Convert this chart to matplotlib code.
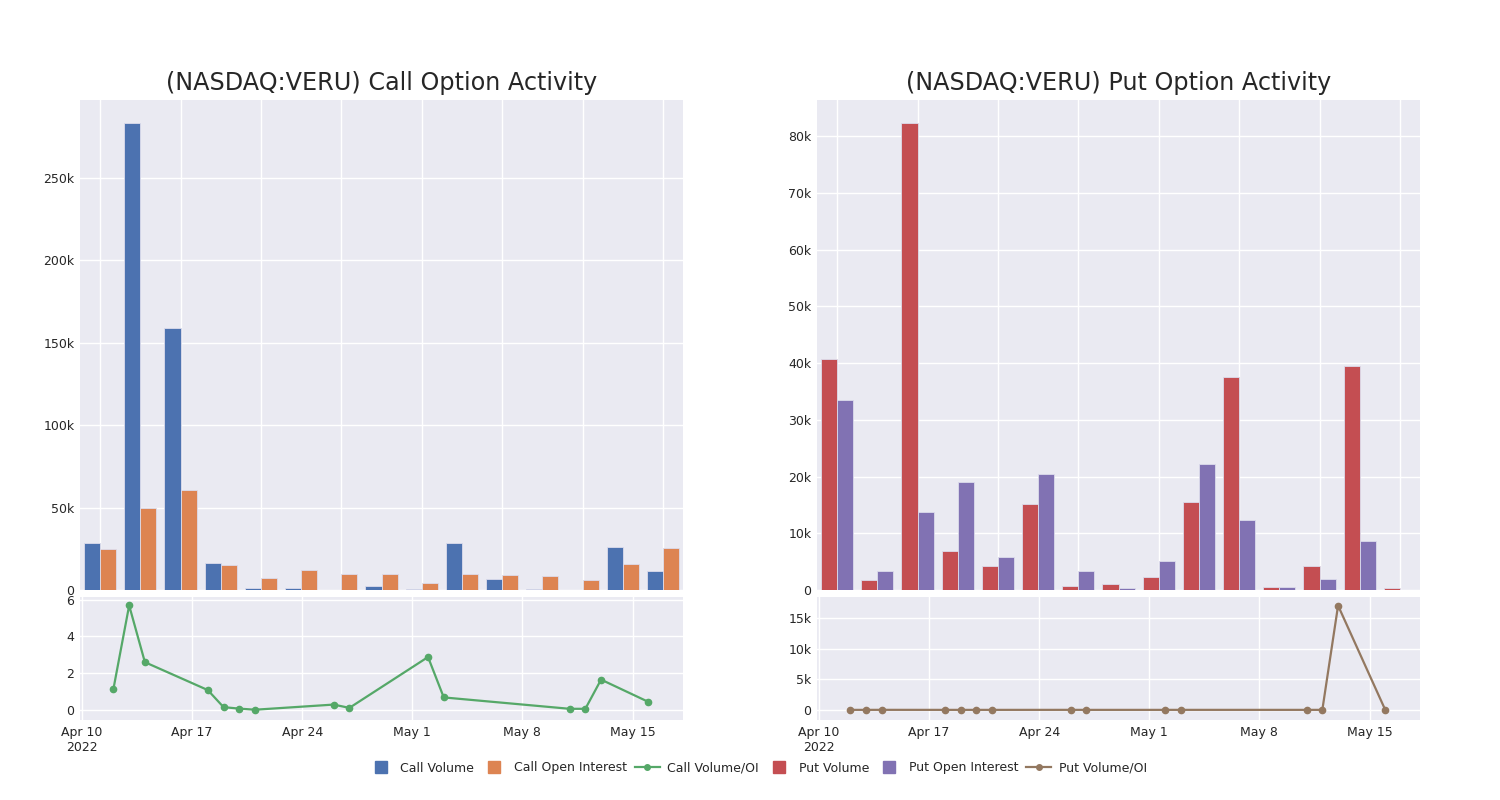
import numpy as np
import pandas as pd
from matplotlib import pyplot as plt
from matplotlib.lines import Line2D
from matplotlib.ticker import FuncFormatter

# values
dates = pd.to_datetime(['2022-04-12', '2022-04-13', '2022-04-14', '2022-04-18', '2022-04-19',
                        '2022-04-20', '2022-04-21', '2022-04-26', '2022-04-27', '2022-05-02',
                        '2022-05-03', '2022-05-11', '2022-05-12', '2022-05-13', '2022-05-16'])
call_volume = [28500, 283200, 159100, 16600, 1000, 1000, 200, 2600, 400, 28500,
               6500, 600, 200, 26300, 11500]
call_oi = [24900, 49800, 60700, 15200, 7100, 12300, 9500, 9700, 4500, 9700,
           9300, 8700, 6100, 15600, 25700]
call_ratio = [1.14, 5.69, 2.6, 1.08, 0.15, 0.07, 0.01, 0.29, 0.11, 2.88,
              0.68, 0.06, 0.06, 1.65, 0.44]
put_volume = [40800, 1800, 82300, 6800, 4200, 15200, 650, 1060, 2300, 15600,
              37500, 500, 4200, 39500, 400]
put_oi = [33500, 3350, 13800, 19100, 5900, 20500, 3300, 300, 5200, 22200,
          12400, 600, 2000, 8700, 0]
put_ratio = [1.22, 0.54, 5.96, 0.36, 0.71, 0.74, 0.2, 3.5, 0.44, 0.7,
             3.0, 0.83, 2.1, 17000, 0]

tick_dates = pd.to_datetime(['2022-04-10', '2022-04-17', '2022-04-24', '2022-05-01',
                             '2022-05-08', '2022-05-15'])
tick_labels = ['Apr 10\n2022', 'Apr 17', 'Apr 24', 'May 1', 'May 8', 'May 15']

BLUE, ORANGE, GREEN = '#4C72B0', '#DD8452', '#55A868'
RED, PURPLE, BROWN = '#C44E52', '#8172B3', '#937860'
BG = '#EAEAF2'
TXT = '#262626'

plt.rcParams['font.family'] = ['DejaVu Sans']

fig = plt.figure(figsize=(15, 8), dpi=100)
W, H = 1500, 800


def px_axes(x0, y0, x1, y1):
    ax = fig.add_axes([x0 / W, 1 - y1 / H, (x1 - x0) / W, (y1 - y0) / H])
    ax.set_facecolor(BG)
    for s in ax.spines.values():
        s.set_visible(False)
    ax.grid(True, color='white', linewidth=1)
    ax.set_axisbelow(True)
    ax.tick_params(length=0, labelsize=9, labelcolor=TXT, pad=4)
    return ax


def kfmt(v, pos):
    if v == 0:
        return '0'
    return f'{v / 1000:g}k'


def bar_panel(ax, vol, oi, c1, c2, title):
    x = np.arange(len(vol))
    ax.bar(x - 0.2, vol, 0.4, color=c1, edgecolor='#dcdcec', linewidth=0.6)
    ax.bar(x + 0.2, oi, 0.4, color=c2, edgecolor='#dcdcec', linewidth=0.6)
    ax.set_xlim(-0.5, len(vol) - 0.5)
    ax.set_ylim(0, max(max(vol), max(oi)) * 1.05)
    ax.set_xticks(x[::2])
    ax.set_xticklabels([])
    ax.yaxis.set_major_formatter(FuncFormatter(kfmt))
    ax.set_title(title, fontsize=17.2, color=TXT, pad=7)


def line_panel(ax, y, color):
    ax.plot(dates, y, color=color, linewidth=1.6, marker='o', markersize=4.5)
    ax.set_xlim(pd.Timestamp('2022-04-09 21:00'), pd.Timestamp('2022-05-18 05:00'))
    ax.set_xticks(tick_dates)
    ax.set_xticklabels(tick_labels)


ax1 = px_axes(80, 100, 683, 590)
bar_panel(ax1, call_volume, call_oi, BLUE, ORANGE, '(NASDAQ:VERU) Call Option Activity')
ax1.set_yticks([0, 50000, 100000, 150000, 200000, 250000])

ax2 = px_axes(80, 597, 683, 720)
line_panel(ax2, call_ratio, GREEN)
ax2.set_ylim(-0.55, 6.15)
ax2.set_yticks([0, 2, 4, 6])

ax3 = px_axes(817, 100, 1420, 590)
bar_panel(ax3, put_volume, put_oi, RED, PURPLE, '(NASDAQ:VERU) Put Option Activity')
ax3.set_yticks(np.arange(0, 80001, 10000))

ax4 = px_axes(817, 597, 1420, 720)
line_panel(ax4, put_ratio, BROWN)
ax4.set_ylim(-1650, 18400)
ax4.set_yticks([0, 5000, 10000, 15000])
ax4.yaxis.set_major_formatter(FuncFormatter(kfmt))

handles = [
    Line2D([], [], linestyle='none', marker='s', markersize=8, color=BLUE),
    Line2D([], [], linestyle='none', marker='s', markersize=8, color=ORANGE),
    Line2D([], [], color=GREEN, linewidth=1.6, marker='o', markersize=4),
    Line2D([], [], linestyle='none', marker='s', markersize=8, color=RED),
    Line2D([], [], linestyle='none', marker='s', markersize=8, color=PURPLE),
    Line2D([], [], color=BROWN, linewidth=1.6, marker='o', markersize=4),
]
labels = ['Call Volume', 'Call Open Interest', 'Call Volume/OI',
          'Put Volume', 'Put Open Interest', 'Put Volume/OI']
fig.legend(handles, labels, loc='center', bbox_to_anchor=(0.505, 1 - 768 / H), ncol=6,
           frameon=False, fontsize=9, handlelength=2, columnspacing=0.6, handletextpad=0.6,
           labelcolor=TXT)

fig.savefig('out.png', dpi=100)
